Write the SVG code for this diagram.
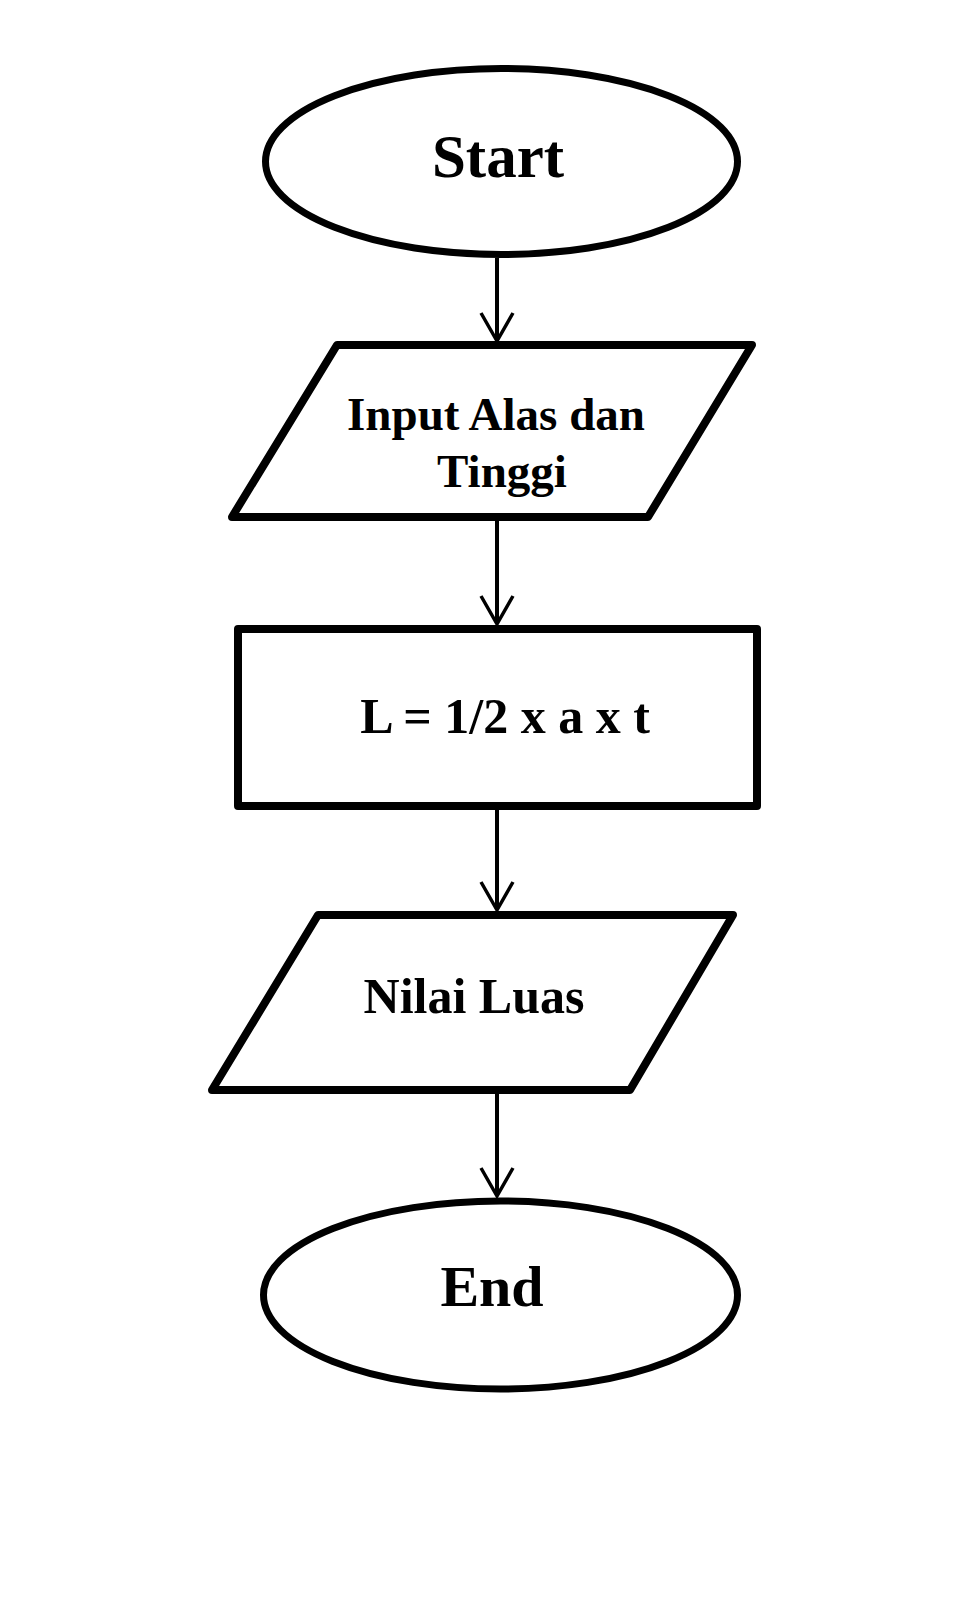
<svg xmlns="http://www.w3.org/2000/svg" width="960" height="1600" viewBox="0 0 960 1600">
  <style>
    .shape { fill: #ffffff; stroke: #000000; stroke-width: 8; stroke-linejoin: round; }
    .term { fill: #ffffff; stroke: #000000; stroke-width: 7; }
    .lbl { font-family: "Liberation Serif", "Times New Roman", serif; font-weight: bold; fill: #000000; text-anchor: middle; }
    .conn { fill: none; stroke: #000000; stroke-width: 4; }
  </style>
  <defs>
    <marker id="arrow" markerUnits="userSpaceOnUse" markerWidth="36" markerHeight="40" viewBox="-32 -20 36 40" refX="0" refY="0" orient="auto">
      <path d="M -28 -16 L 0 0 L -28 16" fill="none" stroke="#000000" stroke-width="3.5" stroke-linejoin="miter"/>
    </marker>
  </defs>
  <rect x="0" y="0" width="960" height="1600" fill="#ffffff"/>

  <g id="connectors">
    <line class="conn" x1="497" y1="258" x2="497" y2="341" marker-end="url(#arrow)"/>
    <line class="conn" x1="497" y1="521" x2="497" y2="624" marker-end="url(#arrow)"/>
    <line class="conn" x1="497" y1="810" x2="497" y2="910" marker-end="url(#arrow)"/>
    <line class="conn" x1="497" y1="1094" x2="497" y2="1196" marker-end="url(#arrow)"/>
  </g>

  <g id="start">
    <ellipse class="term" cx="501.5" cy="161.5" rx="236" ry="93"/>
    <text class="lbl" x="498" y="177" font-size="61">Start</text>
  </g>

  <g id="input">
    <polygon class="shape" points="337,345 752,345 648,517 232,517"/>
    <text class="lbl" x="496" y="430" font-size="47">Input Alas dan</text>
    <text class="lbl" x="502" y="487" font-size="47">Tinggi</text>
  </g>

  <g id="process">
    <rect class="shape" x="238" y="629" width="519" height="177"/>
    <text class="lbl" x="505" y="733" font-size="50">L = 1/2 x a x t</text>
  </g>

  <g id="output">
    <polygon class="shape" points="318,915 733,915 630,1090 212,1090"/>
    <text class="lbl" x="474" y="1013" font-size="50">Nilai Luas</text>
  </g>

  <g id="end">
    <ellipse class="term" cx="500.5" cy="1295" rx="237" ry="94"/>
    <text class="lbl" x="492" y="1306" font-size="58">End</text>
  </g>
</svg>
